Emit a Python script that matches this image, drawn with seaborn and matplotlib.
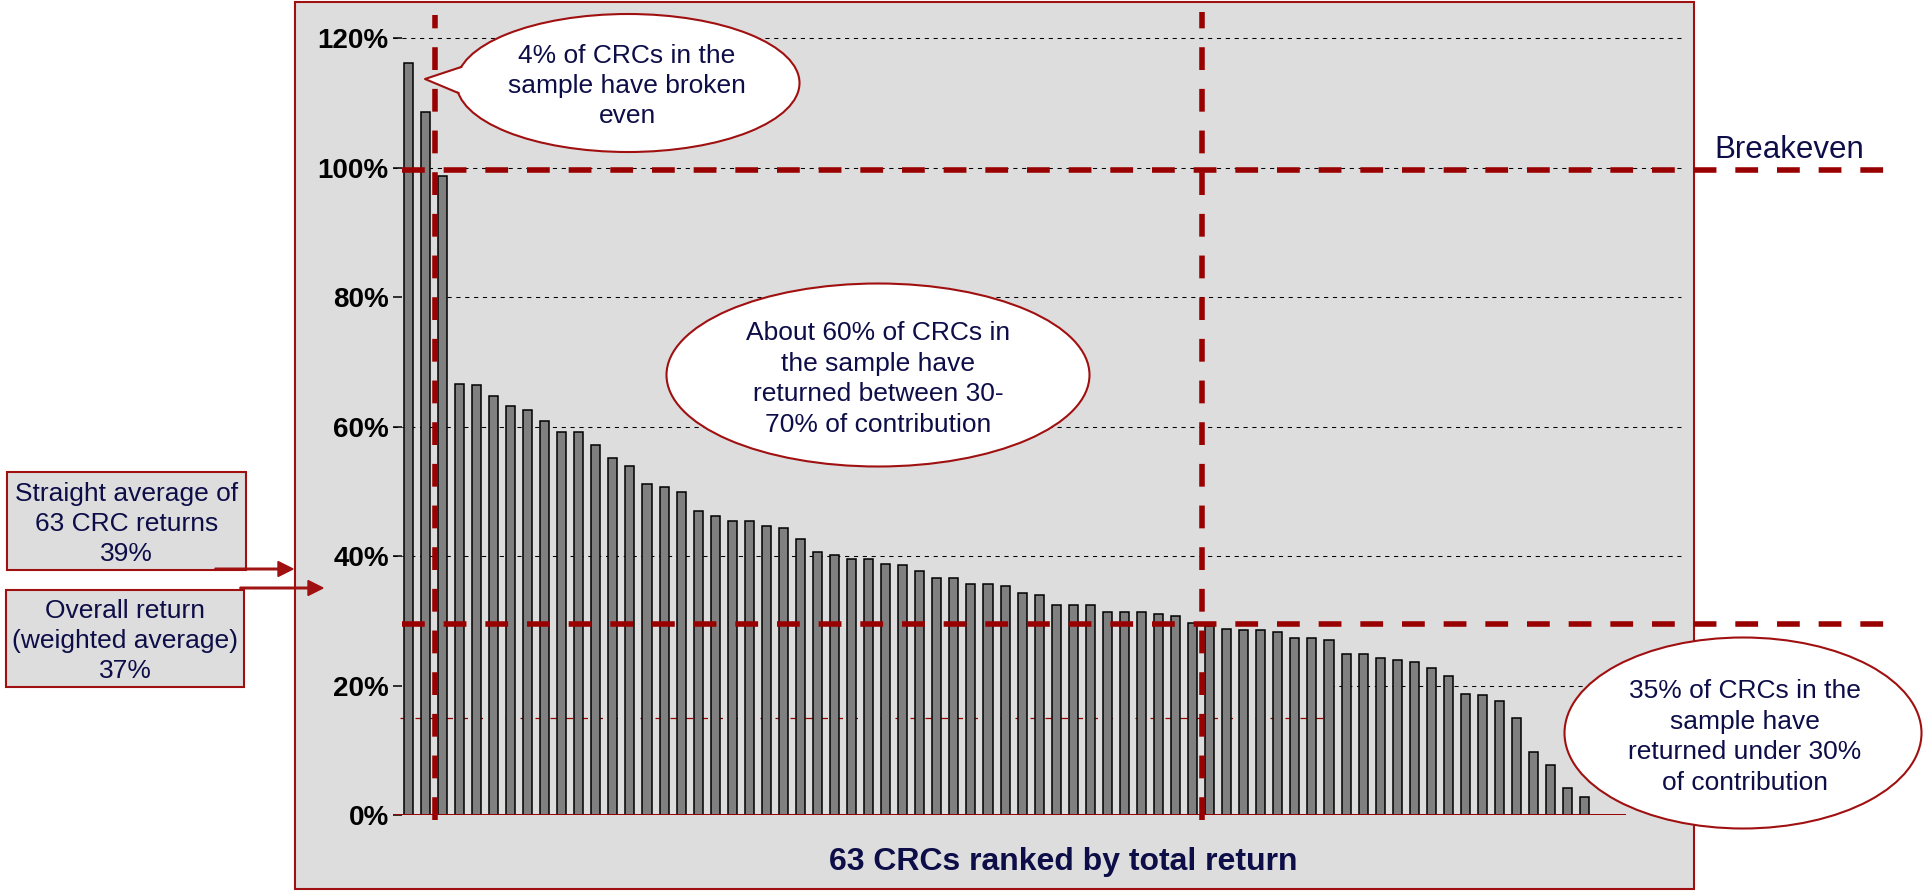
import matplotlib
matplotlib.use("Agg")
import matplotlib.pyplot as plt
import seaborn as sns
import numpy as np
import pandas as pd
from matplotlib.patches import Ellipse, Rectangle, Polygon, FancyArrow

# ---------------- data ----------------
crc_rank = list(range(1, 71))
crc_return = [116.2, 108.6, 98.8, 66.6, 66.4, 64.7, 63.2, 62.6, 60.8, 59.2,
              59.2, 57.1, 55.1, 53.9, 51.1, 50.7, 49.9, 46.9, 46.2, 45.5,
              45.5, 44.7, 44.4, 42.6, 40.7, 40.1, 39.5, 39.5, 38.8, 38.6,
              37.7, 36.6, 36.6, 35.7, 35.7, 35.4, 34.3, 34.0, 32.5, 32.5,
              32.5, 31.4, 31.4, 31.4, 31.1, 30.8, 29.7, 29.2, 28.8, 28.6,
              28.6, 28.2, 27.4, 27.3, 27.1, 24.8, 24.8, 24.2, 23.9, 23.6,
              22.7, 21.5, 18.7, 18.5, 17.6, 15.0, 9.7, 7.7, 4.2, 2.8]
y_ticks = [0, 20, 40, 60, 80, 100, 120]
y_tick_labels = ["0%", "20%", "40%", "60%", "80%", "100%", "120%"]
breakeven_level = 99.6
low_level = 29.5
thin_level = 15
x_label = "63 CRCs ranked by total return"
callout_breakeven = "4% of CRCs in the\nsample have broken\neven"
callout_middle = "About 60% of CRCs in\nthe sample have\nreturned between 30-\n70% of contribution"
callout_low = "35% of CRCs in the\nsample have\nreturned under 30%\nof contribution"
box_straight = "Straight average of\n63 CRC returns\n39%"
box_overall = "Overall return\n(weighted average)\n37%"
breakeven_label = "Breakeven"

df = pd.DataFrame({"rank": crc_rank, "ret": crc_return})

# ---------------- style ----------------
plt.rcParams["font.family"] = ["Liberation Sans", "DejaVu Sans"]
RED = "#990000"
BOXRED = "#A01010"
NAVY = "#0D0D48"
BG = "#DDDDDD"
LS = 1.34

W, H = 1923, 892
fig = plt.figure(figsize=(W / 100, H / 100), dpi=100)
fig.patch.set_facecolor("white")

# background layer (pixel coordinates)
ax_bg = fig.add_axes([0, 0, 1, 1], zorder=0)
ax_bg.set_xlim(0, W)
ax_bg.set_ylim(H, 0)
ax_bg.axis("off")
ax_bg.add_patch(Rectangle((295, 2), 1399, 887, facecolor=BG, edgecolor=BOXRED, lw=1.5))

# main axes
px0, px_step = 408.3, 17.05          # pixel position of first bar and spacing
ax_left_px, ax_right_px = 393, 1626
y0_px, y120_px = 815, 38.3
ax = fig.add_axes([ax_left_px / W, (H - y0_px) / H,
                   (ax_right_px - ax_left_px) / W, (y0_px - y120_px) / H], zorder=1)
ax.set_facecolor("none")

def dx(px):
    return (px - px0) / px_step

ppu = (y0_px - y120_px) / 120.0
def dy(py):
    return (y0_px - py) / ppu

sns.barplot(data=df, x="rank", y="ret", color="#808080", saturation=1,
            edgecolor="black", linewidth=1.1, width=0.53, errorbar=None,
            ax=ax, zorder=2)

ax.set_xlim(dx(ax_left_px), dx(ax_right_px))
ax.set_ylim(0, 120)
for s in ax.spines.values():
    s.set_visible(False)
ax.set_xticks([])
ax.set_xlabel("")
ax.set_ylabel("")
ax.set_yticks(y_ticks)
ax.set_yticklabels(y_tick_labels, fontsize=20, fontweight="bold", color="black")
ax.tick_params(axis="y", direction="in", length=6.5, width=1.1, pad=3, color="black")

# gridlines (black dashed)
grid_dash = (0, (4, 4.5))
grid_start = {20: dx(1330), 40: dx(393), 60: dx(393), 80: dx(447), 100: dx(393), 120: dx(393)}
for lvl in y_ticks[1:]:
    ax.hlines(lvl, grid_start[lvl], dx(1681), colors="black", lw=0.75,
              linestyles=grid_dash, clip_on=False, zorder=0.5)

# thin red dashed line
ax.hlines(thin_level, dx(400), dx(1325), colors=RED, lw=0.9,
          linestyles=(0, (6, 6)), zorder=0.6)

# baseline
ax.axhline(0, color=RED, lw=1.4, zorder=3)

# thick red dashed reference lines
thick = (0, (4.1, 3.4))
for lvl in (breakeven_level, low_level):
    ax.hlines(lvl, dx(402), dx(1896), colors=RED, lw=4, linestyles=thick,
              clip_on=False, zorder=4)
for xp, ytop in ((435, 15), (1202.3, 12)):
    ax.vlines(dx(xp), dy(820), dy(ytop), colors=RED, lw=4, linestyles=thick,
              clip_on=False, zorder=4)

# overlay layer (pixel coordinates)
ov = fig.add_axes([0, 0, 1, 1], zorder=5)
ov.set_xlim(0, W)
ov.set_ylim(H, 0)
ov.axis("off")
ov.set_facecolor("none")

# callout 1 with pointer
cx, cy, a, b = 628, 83, 171.5, 69
ov.add_patch(Ellipse((cx, cy), 2 * a, 2 * b, facecolor="white", edgecolor=BOXRED, lw=1.5, zorder=2))
t1 = np.arcsin(-16 / b)
t2 = np.arcsin(10 / b)
p1 = (cx - a * np.cos(t1), cy + b * np.sin(t1))
p2 = (cx - a * np.cos(t2), cy + b * np.sin(t2))
tip = (425, 79)
ov.add_patch(Polygon([(p1[0] + 3, p1[1]), tip, (p2[0] + 3, p2[1])], closed=True,
                     facecolor="white", edgecolor="none", zorder=3))
ov.plot([p1[0], tip[0], p2[0]], [p1[1], tip[1], p2[1]], color=BOXRED, lw=1.5, zorder=4)
ov.text(627, 86, callout_breakeven, ha="center", va="center", fontsize=19,
        color=NAVY, linespacing=LS, zorder=5)

# callout 2
ov.add_patch(Ellipse((878, 375), 423, 183, facecolor="white", edgecolor=BOXRED, lw=1.5, zorder=2))
ov.text(878, 379, callout_middle, ha="center", va="center", fontsize=19,
        color=NAVY, linespacing=LS, zorder=5)

# callout 3
ov.add_patch(Ellipse((1743, 733), 357, 191, facecolor="white", edgecolor=BOXRED, lw=1.5, zorder=2))
ov.text(1745, 737, callout_low, ha="center", va="center", fontsize=19,
        color=NAVY, linespacing=LS, zorder=5)

# Breakeven label
ov.text(1714, 150, breakeven_label, ha="left", va="center", fontsize=22.5, color=NAVY)

# left boxes
ov.add_patch(Rectangle((7, 472), 239, 98, facecolor=BG, edgecolor=BOXRED, lw=1.5, zorder=2))
ov.text(126.5, 524, box_straight, ha="center", va="center", fontsize=19,
        color=NAVY, linespacing=LS, zorder=5)
ov.add_patch(Rectangle((6, 590), 238, 97, facecolor=BG, edgecolor=BOXRED, lw=1.5, zorder=2))
ov.text(125, 641, box_overall, ha="center", va="center", fontsize=19,
        color=NAVY, linespacing=LS, zorder=5)

# arrows
ov.add_patch(FancyArrow(215, 569, 293 - 215, 0, width=1.6, head_width=15, head_length=15,
                        length_includes_head=True, color=BOXRED, zorder=6))
ov.add_patch(FancyArrow(240, 588, 323 - 240, 0, width=1.6, head_width=15, head_length=15,
                        length_includes_head=True, color=BOXRED, zorder=6))

# x label
ov.text(1063.5, 862, x_label, ha="center", va="center", fontsize=23,
        fontweight="bold", color=NAVY)

fig.savefig("out.png", dpi=100, facecolor="white")
